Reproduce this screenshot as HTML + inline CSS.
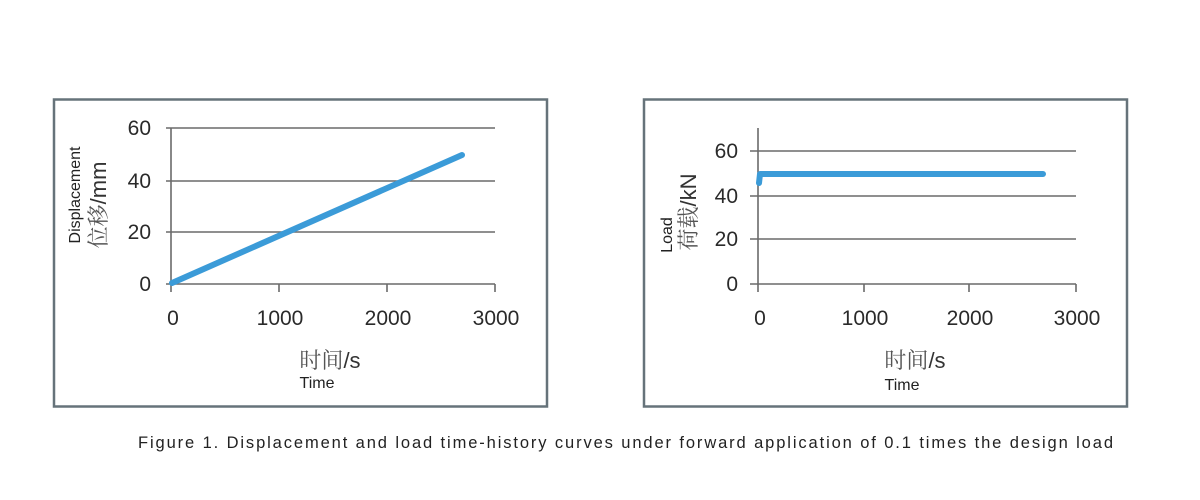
<!DOCTYPE html>
<html><head><meta charset="utf-8"><style>
html,body{margin:0;padding:0;background:#fff;width:1200px;height:500px;overflow:hidden}
svg{display:block}
text{font-family:"Liberation Sans","Noto Sans CJK SC",sans-serif}
.t{font-size:21px;fill:#2a2a2a}
.cn{font-family:"Noto Serif CJK SC","Liberation Serif",serif;font-size:22px;fill:#555}
</style></head><body>
<svg width="1200" height="500" viewBox="0 0 1200 500">
<!-- Left panel -->
<rect x="54" y="99.5" width="493" height="307" fill="none" stroke="#66737a" stroke-width="2.5"/>
<g stroke="#6a6a6a" stroke-width="1.6">
<line x1="166" y1="128" x2="495" y2="128"/>
<line x1="166" y1="181" x2="495" y2="181"/>
<line x1="166" y1="232" x2="495" y2="232"/>
<line x1="166" y1="284" x2="495" y2="284"/>
<line x1="171" y1="128" x2="171" y2="292"/>
<line x1="279" y1="284" x2="279" y2="292"/>
<line x1="387" y1="284" x2="387" y2="292"/>
<line x1="495" y1="284" x2="495" y2="292"/>
</g>
<line x1="172" y1="283" x2="462" y2="155" stroke="#3b9bd8" stroke-width="6" stroke-linecap="round"/>
<g class="t" text-anchor="end">
<text x="151" y="135">60</text><text x="151" y="188">40</text>
<text x="151" y="239">20</text><text x="151" y="291">0</text>
</g>
<g class="t" text-anchor="middle">
<text x="173" y="325">0</text><text x="280" y="325">1000</text>
<text x="388" y="325">2000</text><text x="496" y="325">3000</text>
</g>
<text x="330" y="368" text-anchor="middle" class="cn">时间<tspan style="font-family:'Liberation Sans';fill:#333">/s</tspan></text>
<text x="317" y="388" text-anchor="middle" font-size="16" fill="#222">Time</text>
<text transform="translate(80,195) rotate(-90)" text-anchor="middle" font-size="16" fill="#222">Displacement</text>
<text transform="translate(106,205) rotate(-90)" text-anchor="middle" class="cn">位移<tspan style="font-family:'Liberation Sans';fill:#333">/mm</tspan></text>

<!-- Right panel -->
<rect x="644" y="99.5" width="483" height="307" fill="none" stroke="#66737a" stroke-width="2.5"/>
<g stroke="#6a6a6a" stroke-width="1.6">
<line x1="750" y1="151" x2="1076" y2="151"/>
<line x1="750" y1="196" x2="1076" y2="196"/>
<line x1="750" y1="239" x2="1076" y2="239"/>
<line x1="750" y1="284" x2="1076" y2="284"/>
<line x1="758" y1="128" x2="758" y2="292"/>
<line x1="864" y1="284" x2="864" y2="292"/>
<line x1="969" y1="284" x2="969" y2="292"/>
<line x1="1076" y1="284" x2="1076" y2="292"/>
</g>
<polyline points="759,183 760,174 1043,174" fill="none" stroke="#3b9bd8" stroke-width="6" stroke-linecap="round" stroke-linejoin="round"/>
<g class="t" text-anchor="end">
<text x="738" y="158">60</text><text x="738" y="203">40</text>
<text x="738" y="246">20</text><text x="738" y="291">0</text>
</g>
<g class="t" text-anchor="middle">
<text x="760" y="325">0</text><text x="865" y="325">1000</text>
<text x="970" y="325">2000</text><text x="1077" y="325">3000</text>
</g>
<text x="915" y="368" text-anchor="middle" class="cn">时间<tspan style="font-family:'Liberation Sans';fill:#333">/s</tspan></text>
<text x="902" y="390" text-anchor="middle" font-size="16" fill="#222">Time</text>
<text transform="translate(672,235) rotate(-90)" text-anchor="middle" font-size="16" fill="#222">Load</text>
<text transform="translate(696,212) rotate(-90)" text-anchor="middle" class="cn">荷载<tspan style="font-family:'Liberation Sans';fill:#333">/kN</tspan></text>

<text x="138" y="448" font-size="16.5" fill="#222" textLength="975" lengthAdjust="spacing">Figure 1. Displacement and load time-history curves under forward application of 0.1 times the design load</text>
</svg>
</body></html>
